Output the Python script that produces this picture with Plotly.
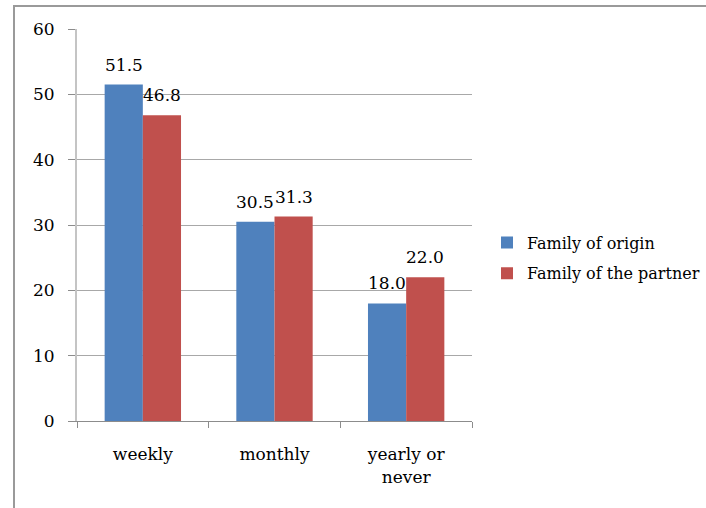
import plotly.graph_objects as go

categories = ["weekly", "monthly", "yearly or<br>never"]
series_names = ["Family of origin", "Family of the partner"]
origin_values = [51.5, 30.5, 18.0]
partner_values = [46.8, 31.3, 22.0]
colors = ["#4F81BD", "#C0504D"]
y_ticks = [0, 10, 20, 30, 40, 50, 60]

FONT = "DejaVu Serif"
FS = 17

fig = go.Figure()
for name, vals, col in zip(series_names, [origin_values, partner_values], colors):
    fig.add_trace(go.Bar(
        x=categories, y=vals, name=name, legendgroup=name,
        marker=dict(color=col, line=dict(width=0)),
    ))

# data labels
annotations = []
offsets = [-0.145, 0.145]
for k, vals in enumerate([origin_values, partner_values]):
    for i, v in enumerate(vals):
        annotations.append(dict(
            x=i + offsets[k], y=v, xref="x", yref="y",
            text=f"{v:.1f}", showarrow=False,
            yanchor="bottom", xanchor="center", yshift=8,
            font=dict(family=FONT, size=FS, color="#000000"),
        ))

W, H = 706, 508
L, R, T, B = 77, 472, 29, 421
fig.update_layout(
    width=W, height=H,
    margin=dict(l=L, r=W - R, t=T, b=H - B, pad=0, autoexpand=False),
    paper_bgcolor="white", plot_bgcolor="white",
    barmode="group", bargap=0.42, bargroupgap=0,
    font=dict(family=FONT, size=FS, color="#000000"),
    showlegend=True,
    legend=dict(
        x=(487 - L) / (R - L), y=(B - 258) / (B - T),
        xanchor="left", yanchor="middle",
        font=dict(family=FONT, size=16, color="#000000"),
        bgcolor="rgba(0,0,0,0)", itemwidth=30, tracegroupgap=7,
    ),
    annotations=annotations,
    shapes=[dict(
        type="rect", xref="paper", yref="paper",
        x0=(14 - L) / (R - L), x1=3,
        y0=-2, y1=(B - 6) / (B - T),
        line=dict(color="#9a9a9a", width=2), fillcolor="rgba(0,0,0,0)",
        layer="below",
    )],
    xaxis=dict(
        type="category",
        showline=True, linecolor="#8c8c8c", linewidth=1,
        ticks="outside", tickson="boundaries", ticklen=6, tickcolor="#8c8c8c",
        showgrid=False, ticklabelstandoff=18,
        tickfont=dict(family=FONT, size=FS, color="#000000"),
        range=[-0.5, 2.5],
    ),
    yaxis=dict(
        range=[0, 60], tickvals=y_ticks,
        showline=True, linecolor="#c4c4c4", linewidth=2,
        ticks="outside", ticklen=7, tickcolor="#8c8c8c",
        showgrid=True, gridcolor="#a8a8a8", gridwidth=1,
        zeroline=False, ticklabelstandoff=10,
        tickfont=dict(family=FONT, size=FS, color="#000000"),
    ),
)

fig.write_html("out.html")
